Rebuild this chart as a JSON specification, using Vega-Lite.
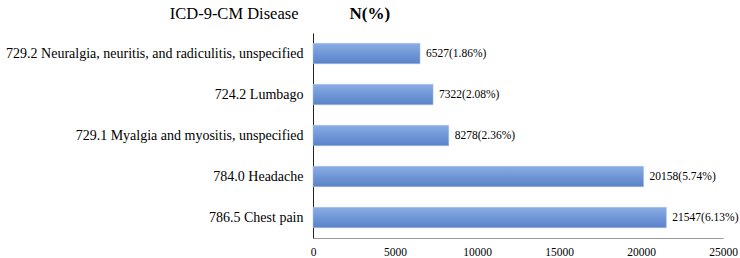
{
  "$schema": "https://vega.github.io/schema/vega-lite/v6.json",
  "autosize": "none",
  "width": 410,
  "height": 205,
  "padding": {"left": 313, "top": 33, "right": 17, "bottom": 20},
  "background": "white",
  "config": {"view": {"stroke": null}, "font": "Liberation Serif"},
  "data": {"values": [
    {"disease": "729.2 Neuralgia, neuritis, and radiculitis, unspecified", "n": 6527, "label": "6527(1.86%)"},
    {"disease": "724.2 Lumbago", "n": 7322, "label": "7322(2.08%)"},
    {"disease": "729.1 Myalgia and myositis, unspecified", "n": 8278, "label": "8278(2.36%)"},
    {"disease": "784.0 Headache", "n": 20158, "label": "20158(5.74%)"},
    {"disease": "786.5 Chest pain", "n": 21547, "label": "21547(6.13%)"}
  ]},
  "encoding": {
    "y": {
      "field": "disease", "type": "nominal", "sort": null,
      "scale": {"paddingInner": 0.5, "paddingOuter": 0.25},
      "axis": {
        "title": "ICD-9-CM Disease",
        "titleAngle": 0, "titleAlign": "right", "titleBaseline": "middle",
        "titleX": -15, "titleY": -20,
        "titleFont": "Liberation Serif", "titleFontSize": 16.5, "titleFontWeight": "normal", "titleColor": "#000",
        "labelFont": "Liberation Serif", "labelFontSize": 14, "labelColor": "#000",
        "labelLimit": 400, "ticks": false, "labelPadding": 10,
        "domainColor": "#222", "domainWidth": 1
      }
    },
    "x": {
      "field": "n", "type": "quantitative",
      "scale": {"domain": [0, 25000], "nice": false},
      "axis": {
        "values": [0, 5000, 10000, 15000, 20000, 25000], "format": "d",
        "title": "N(%)",
        "titleAngle": 0, "titleAlign": "left", "titleBaseline": "middle",
        "titleX": 36, "titleY": -225,
        "titleFont": "Liberation Serif", "titleFontSize": 17, "titleFontWeight": "bold", "titleColor": "#000",
        "labelFont": "Liberation Serif", "labelFontSize": 11.5, "labelColor": "#000",
        "ticks": false, "labelPadding": 8, "grid": false,
        "domainColor": "#9a9a9a", "domainWidth": 1, "labelFlush": false
      }
    }
  },
  "layer": [
    {
      "mark": {
        "type": "bar",
        "color": {"gradient": "linear", "x1": 0, "y1": 0, "x2": 0, "y2": 1,
          "stops": [{"offset": 0, "color": "#8bade4"}, {"offset": 0.5, "color": "#6f97d7"}, {"offset": 1, "color": "#5a82c7"}]},
        "stroke": "#a9c1ea", "strokeWidth": 0.5
      }
    },
    {
      "mark": {"type": "text", "align": "left", "baseline": "middle", "dx": 6, "font": "Liberation Serif", "fontSize": 11.5, "color": "#000"},
      "encoding": {"text": {"field": "label"}}
    }
  ]
}
